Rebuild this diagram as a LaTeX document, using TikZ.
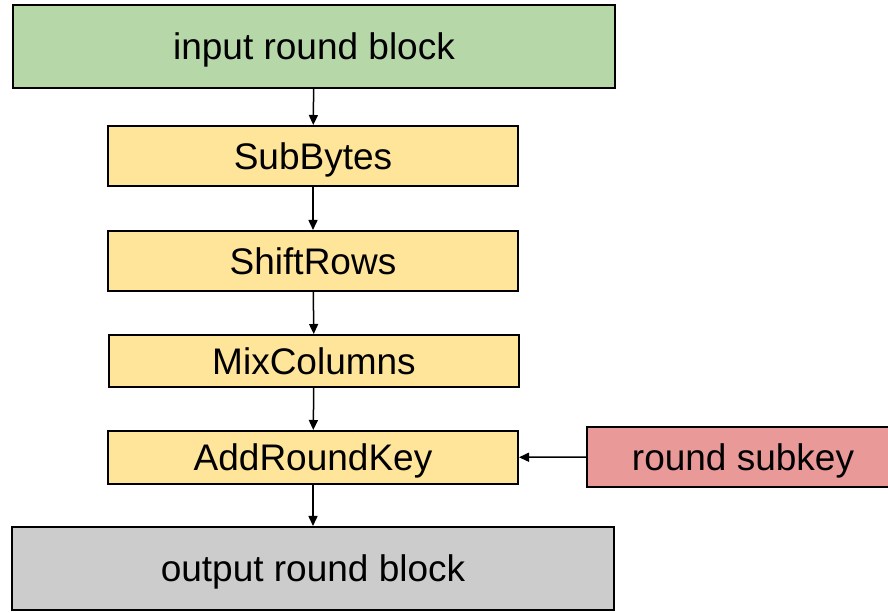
\documentclass[tikz,border=0pt]{standalone}
\usepackage{fontspec}
\setmainfont{Liberation Sans}
\usetikzlibrary{arrows.meta}
\definecolor{inputgreen}{HTML}{B6D7A8}
\definecolor{stepyellow}{HTML}{FFE599}
\definecolor{keyred}{HTML}{EA9999}
\definecolor{outputgray}{HTML}{CCCCCC}
\tikzset{
	blockbox/.style={draw=black, line width=1pt, rectangle, inner sep=0pt,
		text depth=0pt, font=\fontsize{18.5}{22}\selectfont},
	roundstep/.style={blockbox, fill=stepyellow, minimum width=205pt},
	flow/.style={draw=black, line width=0.75pt,
		-{Triangle[length=5pt,width=4.5pt]}},
}
\begin{document}
\begin{tikzpicture}[x=0.5pt, y=-0.5pt]
	\clip (0,0) rectangle (888,613);
	\node[blockbox, fill=inputgreen, minimum width=301pt, minimum height=41.5pt] (input) at (314,46.5) {input round block};
	\node[roundstep, minimum height=30pt] (subbytes) at (313,156) {SubBytes};
	\node[roundstep, minimum height=30pt] (shiftrows) at (313,261) {ShiftRows};
	\node[roundstep, minimum height=26pt] (mixcolumns) at (314,361) {MixColumns};
	\node[roundstep, minimum height=26.5pt] (addroundkey) at (313,457.5) {AddRoundKey};
	\node[blockbox, fill=keyred, minimum width=156pt, minimum height=30pt] (subkey) at (743,457) {round subkey};
	\node[blockbox, fill=outputgray, minimum width=301pt, minimum height=41.5pt] (output) at (313,568.5) {output round block};
	% connectors
	\draw[flow] (input) -- (subbytes);
	\draw[flow] (subbytes) -- (shiftrows);
	\draw[flow] (shiftrows) -- (mixcolumns);
	\draw[flow] (mixcolumns) -- (addroundkey);
	\draw[flow] (addroundkey) -- (output);
	\draw[flow] (subkey) -- (addroundkey);
\end{tikzpicture}
\end{document}
